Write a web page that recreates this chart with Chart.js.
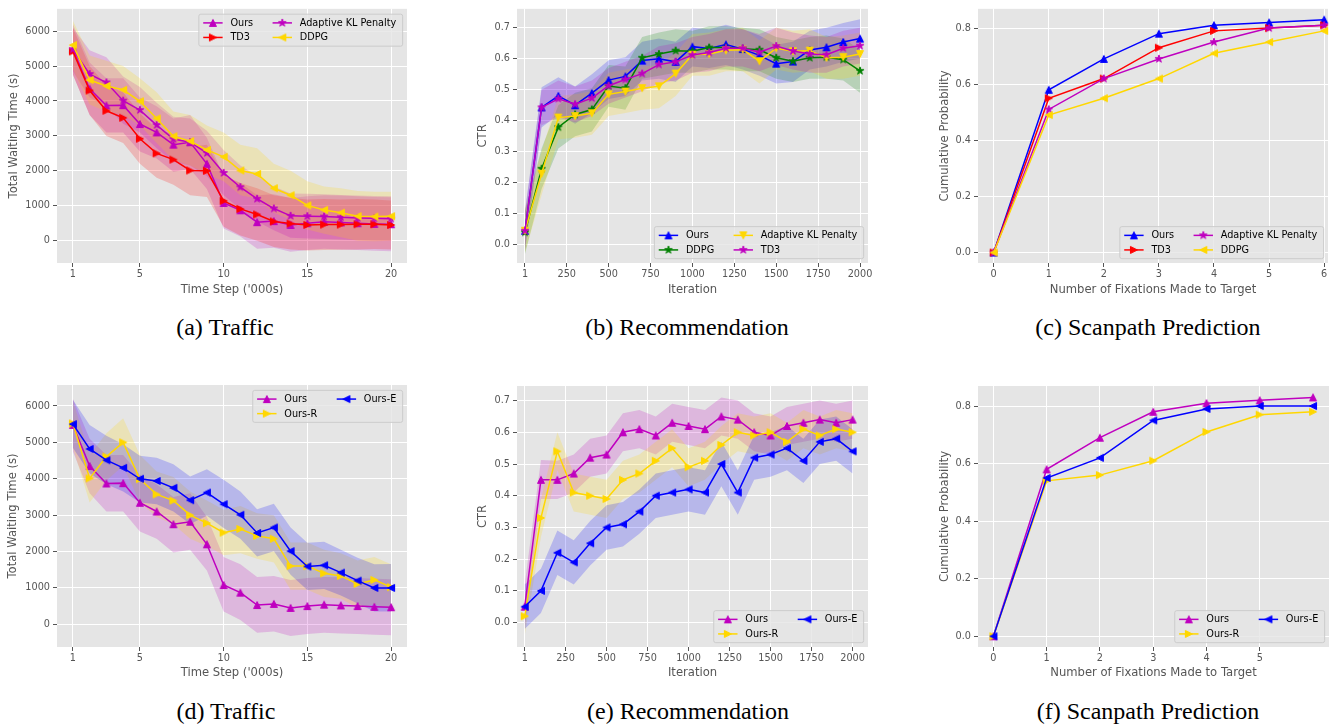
<!DOCTYPE html>
<html><head><meta charset="utf-8">
<script src="https://cdn.jsdelivr.net/npm/chart.js@4.4.1/dist/chart.umd.min.js"></script>
<style>
html,body{margin:0;padding:0;background:#fff;}
#root{position:relative;width:1340px;height:728px;overflow:hidden;background:#fff;}
canvas{position:absolute;}
.cap{position:absolute;width:400px;text-align:center;font-family:"Liberation Serif",serif;font-size:24px;line-height:28px;color:#000;white-space:nowrap;}
</style></head><body><div id="root"></div>
<script>
// ---------------- DATA ----------------
const trafficSteps = [1,2,3,4,5,6,7,8,9,10,11,12,13,14,15,16,17,18,19,20];
const trafficXTicks = [1,5,10,15,20];
const trafficYTicks = [0,1000,2000,3000,4000,5000,6000];
const iterations = [1,100,200,300,400,500,600,700,800,900,1000,1100,1200,1300,1400,1500,1600,1700,1800,1900,2000];
const iterXTicks = [1,250,500,750,1000,1250,1500,1750,2000];
const ctrYTicks = [0,0.1,0.2,0.3,0.4,0.5,0.6,0.7];
const fixations = [0,1,2,3,4,5,6];
const fixXTicksC = [0,1,2,3,4,5,6];
const fixXTicksF = [0,1,2,3,4,5];
const probYTicks = [0,0.2,0.4,0.6,0.8];

// (a)/(d) Traffic
const trafficOurs   = [5480,4350,3870,3880,3340,3100,2750,2820,2200,1080,870,530,560,450,500,540,520,500,480,470];
const trafficOursLo = [4750,3600,3100,3100,2550,2350,1970,2050,1480,350,120,-230,-200,-320,-270,-230,-250,-270,-290,-300];
const trafficOursHi = [6200,5100,4650,4650,4100,3850,3500,3600,2950,1850,1650,1300,1330,1220,1270,1300,1290,1270,1250,1240];
const trafficTD3    = [5420,4300,3720,3520,2920,2500,2320,2010,2000,1140,910,750,550,490,450,460,460,470,470,450];
const trafficTD3Lo  = [4750,3600,3000,2800,2200,1800,1600,1300,1250,400,150,0,-180,-250,-280,-270,-260,-250,-240,-250];
const trafficTD3Hi  = [6100,5000,4450,4250,3650,3200,3050,2700,2750,1880,1650,1500,1300,1230,1180,1190,1180,1190,1180,1150];
const trafficAKL    = [5480,4770,4530,4010,3740,3310,2910,2820,2510,1940,1530,1200,920,710,700,690,670,650,640,630];
const trafficAKLLo  = [4850,4100,3850,3350,3100,2650,2250,2150,1850,1300,900,550,300,80,60,50,30,10,0,-10];
const trafficAKLHi  = [6100,5450,5250,4700,4400,3950,3550,3500,3150,2600,2150,1850,1550,1350,1340,1330,1310,1290,1280,1270];
const trafficDDPG   = [5600,4600,4430,4320,3990,3500,2990,2850,2600,2400,2010,1910,1500,1300,1010,880,800,700,690,700];
const trafficDDPGLo = [4900,3900,3700,3600,3300,2800,2300,2150,1900,1700,1300,1200,800,600,320,200,100,0,-20,0];
const trafficDDPGHi = [6300,5300,5150,5000,4650,4250,3700,3600,3300,3100,2750,2650,2200,2000,1700,1550,1500,1420,1400,1400];
const trafficOursR   = [5520,4010,4610,5000,3990,3570,3400,3000,2780,2520,2620,2430,2350,1600,1600,1400,1330,1110,1220,1020];
const trafficOursRLo = [4850,3350,3950,4350,3350,2950,2750,2350,2150,1900,1950,1800,1700,950,950,750,700,450,550,400];
const trafficOursRHi = [6150,4650,5250,5660,4650,4200,4050,3650,3400,3150,3250,3050,3000,2250,2250,2050,1950,1750,1850,1650];
const trafficOursE   = [5500,4820,4510,4300,4000,3940,3750,3410,3620,3300,3010,2510,2660,2010,1590,1620,1420,1200,1000,1000];
const trafficOursELo = [4850,4150,3850,3650,3350,3300,3100,2760,2980,2650,2350,1860,2010,1360,940,970,790,570,350,350];
const trafficOursEHi = [6170,5480,5180,4950,4630,4580,4400,4060,4260,3970,3650,3160,3310,2660,2240,2270,2050,1830,1650,1660];

// (b) Recommendation
const recOurs   = [0.045,0.443,0.480,0.450,0.489,0.531,0.543,0.594,0.600,0.590,0.639,0.633,0.646,0.631,0.611,0.584,0.591,0.628,0.637,0.654,0.665];
const recOursLo = [-0.02,0.378,0.42,0.39,0.425,0.47,0.48,0.53,0.535,0.525,0.575,0.57,0.58,0.565,0.545,0.52,0.525,0.565,0.575,0.59,0.60];
const recOursHi = [0.11,0.508,0.54,0.51,0.55,0.595,0.605,0.655,0.665,0.655,0.70,0.695,0.71,0.695,0.675,0.645,0.655,0.69,0.70,0.715,0.727];
const recDDPG   = [0.040,0.245,0.379,0.420,0.436,0.512,0.505,0.603,0.615,0.626,0.624,0.636,0.636,0.632,0.629,0.603,0.592,0.603,0.605,0.597,0.561];
const recDDPGLo = [-0.03,0.18,0.31,0.35,0.365,0.445,0.435,0.535,0.545,0.555,0.555,0.565,0.565,0.56,0.56,0.535,0.525,0.535,0.535,0.53,0.49];
const recDDPGHi = [0.11,0.31,0.45,0.49,0.505,0.58,0.575,0.67,0.685,0.695,0.69,0.705,0.705,0.70,0.695,0.67,0.66,0.67,0.675,0.665,0.63];
const recAKL    = [0.045,0.229,0.410,0.415,0.424,0.485,0.494,0.505,0.511,0.552,0.613,0.615,0.627,0.629,0.592,0.634,0.624,0.626,0.603,0.605,0.615];
const recAKLLo  = [-0.025,0.16,0.34,0.345,0.355,0.415,0.425,0.435,0.44,0.48,0.545,0.545,0.56,0.56,0.52,0.565,0.555,0.56,0.535,0.535,0.545];
const recAKLHi  = [0.115,0.30,0.48,0.485,0.495,0.555,0.565,0.575,0.58,0.62,0.68,0.685,0.695,0.70,0.66,0.70,0.69,0.695,0.67,0.675,0.685];
const recTD3    = [0.045,0.443,0.471,0.453,0.473,0.513,0.533,0.552,0.581,0.590,0.612,0.620,0.634,0.634,0.621,0.641,0.625,0.615,0.613,0.634,0.642];
const recTD3Lo  = [-0.015,0.385,0.41,0.395,0.415,0.455,0.475,0.495,0.52,0.53,0.555,0.56,0.575,0.575,0.56,0.58,0.565,0.555,0.555,0.575,0.585];
const recTD3Hi  = [0.105,0.50,0.53,0.51,0.53,0.57,0.59,0.61,0.64,0.65,0.67,0.68,0.695,0.695,0.68,0.70,0.685,0.675,0.67,0.69,0.70];

// (e) Recommendation ablation
const abOurs    = [0.05,0.45,0.45,0.47,0.52,0.53,0.60,0.61,0.59,0.63,0.62,0.61,0.65,0.64,0.60,0.59,0.62,0.63,0.64,0.63,0.64];
const abOursLo  = [-0.02,0.39,0.39,0.41,0.46,0.47,0.54,0.55,0.53,0.57,0.56,0.55,0.59,0.58,0.54,0.53,0.56,0.57,0.58,0.57,0.58];
const abOursHi  = [0.12,0.513,0.51,0.53,0.58,0.59,0.66,0.67,0.65,0.69,0.68,0.67,0.71,0.70,0.66,0.65,0.68,0.69,0.70,0.69,0.70];
const abOursR   = [0.02,0.33,0.54,0.41,0.40,0.39,0.45,0.47,0.51,0.55,0.49,0.51,0.56,0.60,0.59,0.60,0.57,0.61,0.59,0.61,0.60];
const abOursRLo = [-0.04,0.27,0.48,0.35,0.34,0.33,0.39,0.41,0.45,0.49,0.43,0.45,0.50,0.54,0.53,0.54,0.51,0.55,0.53,0.55,0.54];
const abOursRHi = [0.08,0.39,0.60,0.47,0.46,0.45,0.51,0.53,0.57,0.61,0.55,0.57,0.62,0.66,0.65,0.66,0.63,0.67,0.65,0.67,0.66];
const abOursE   = [0.05,0.10,0.22,0.19,0.25,0.30,0.31,0.35,0.40,0.41,0.42,0.41,0.50,0.41,0.52,0.53,0.55,0.51,0.57,0.58,0.54];
const abOursELo = [-0.02,0.03,0.15,0.12,0.18,0.23,0.24,0.28,0.33,0.34,0.35,0.34,0.43,0.34,0.45,0.46,0.48,0.44,0.50,0.51,0.47];
const abOursEHi = [0.12,0.17,0.29,0.26,0.32,0.37,0.38,0.42,0.47,0.48,0.49,0.48,0.57,0.48,0.59,0.60,0.62,0.58,0.64,0.65,0.61];

// (c)/(f) Scanpath
const scanOurs  = [0,0.58,0.69,0.78,0.81,0.82,0.83];
const scanTD3   = [0,0.55,0.62,0.73,0.79,0.80,0.81];
const scanAKL   = [0,0.51,0.62,0.69,0.75,0.80,0.81];
const scanDDPG  = [0,0.49,0.55,0.62,0.71,0.75,0.79];
const scanOursR = [0,0.54,0.56,0.61,0.71,0.77,0.78];
const scanOursE = [0,0.55,0.62,0.75,0.79,0.80,0.80];

// ---------------- STYLE ----------------
const MAG='#BF00BF', RED='#FF0000', GOLD='#FFD700', BLUE='#0000FF', GREEN='#008000';
const BAND={ [MAG]:'rgba(191,0,191,0.2)', [RED]:'rgba(255,0,0,0.2)', [GOLD]:'rgba(255,215,0,0.2)', [BLUE]:'rgba(0,0,255,0.2)', [GREEN]:'rgba(0,128,0,0.2)' };
const FONT='"DejaVu Sans", sans-serif';
const TICK_FS=9.7, LABEL_FS=11.6, LEG_FS=9.7;
Chart.defaults.font.family = FONT;

const markerCache={};
function makeMarker(type,color){
  const key=type+color; if(markerCache[key]) return markerCache[key];
  const S=12,c=S/2,h=3.5;
  const cv=document.createElement('canvas'); cv.width=S; cv.height=S;
  const g=cv.getContext('2d'); g.beginPath();
  if(type==='^'){g.moveTo(c,c-h);g.lineTo(c+h,c+h);g.lineTo(c-h,c+h);}
  else if(type==='v'){g.moveTo(c,c+h);g.lineTo(c+h,c-h);g.lineTo(c-h,c-h);}
  else if(type==='>'){g.moveTo(c+h,c);g.lineTo(c-h,c-h);g.lineTo(c-h,c+h);}
  else if(type==='<'){g.moveTo(c-h,c);g.lineTo(c+h,c-h);g.lineTo(c+h,c+h);}
  else { const R=h*1.15; for(let k=0;k<10;k++){const r=k%2===0?R:R*0.382;const a=-Math.PI/2+k*Math.PI/5;const px=c+r*Math.cos(a),py=c+r*Math.sin(a); if(k===0)g.moveTo(px,py); else g.lineTo(px,py);} }
  g.closePath(); g.fillStyle=color; g.fill(); g.lineWidth=1; g.strokeStyle=color; g.stroke();
  markerCache[key]=cv; return cv;
}

const bgPlugin={id:'bgfill',beforeDraw(chart){const {ctx,chartArea:a}=chart;ctx.save();ctx.fillStyle='#E5E5E5';ctx.fillRect(a.left,a.top,a.right-a.left,a.bottom-a.top);ctx.restore();}};

function legendPlugin(items,pos){
  return {id:'mlegend',afterDatasetsDraw(chart){
    const ctx=chart.ctx,a=chart.chartArea,fs=LEG_FS;
    ctx.save(); ctx.font=fs+'px '+FONT;
    const nrow=Math.ceil(items.length/2);
    const cols=[items.slice(0,nrow),items.slice(nrow)];
    const hl=2*fs,hp=0.8*fs,cs=2*fs,bp=0.4*fs,ls=0.5*fs,rh=1.0*fs,ap=0.5*fs;
    const cw=cols.map(col=>hl+hp+Math.max(...col.map(it=>ctx.measureText(it.label).width)));
    const W=bp*2+cw[0]+cs+cw[1]+3, H=bp*2+nrow*rh+(nrow-1)*ls;
    const x0=a.right-ap-W;
    const y0=pos==='ur'?a.top+ap:a.bottom-ap-H;
    ctx.beginPath();
    if(ctx.roundRect) ctx.roundRect(x0+0.5,y0+0.5,W,H,2); else ctx.rect(x0+0.5,y0+0.5,W,H);
    ctx.fillStyle='rgba(229,229,229,0.8)'; ctx.fill();
    ctx.lineWidth=1; ctx.strokeStyle='#CCCCCC'; ctx.stroke();
    let cx=x0+bp+1;
    cols.forEach((col,ci)=>{
      col.forEach((it,ri)=>{
        const cy=y0+bp+rh/2+ri*(rh+ls)+0.5;
        ctx.beginPath(); ctx.moveTo(cx,cy); ctx.lineTo(cx+hl,cy);
        ctx.strokeStyle=it.color; ctx.lineWidth=1.5; ctx.stroke();
        const m=makeMarker(it.marker,it.color);
        ctx.drawImage(m,cx+hl/2-m.width/2,cy-m.height/2);
        ctx.fillStyle='#000'; ctx.textBaseline='middle'; ctx.textAlign='left';
        ctx.fillText(it.label,cx+hl+hp,cy+0.5);
      });
      cx+=cw[ci]+cs;
    });
    ctx.restore();
  }};
}

const fmtInt=v=>String(v);
const fmt1=v=>v.toFixed(1);

const panels=[
 {canvas:[0,0,435,310],area:[57,3,407,263],yTitleX:13.5,xTitleY:290,
  xRange:[0.05,20.95],yRange:[-640,6640],xTicks:trafficXTicks,yTicks:trafficYTicks,xFmt:fmtInt,yFmt:fmtInt,
  xTitle:"Time Step ('000s)",yTitle:'Total Waiting Time (s)',legend:'ur',x:trafficSteps,
  series:[
   {label:'Ours',color:MAG,marker:'^',y:trafficOurs,lo:trafficOursLo,hi:trafficOursHi},
   {label:'TD3',color:RED,marker:'>',y:trafficTD3,lo:trafficTD3Lo,hi:trafficTD3Hi},
   {label:'Adaptive KL Penalty',color:MAG,marker:'*',y:trafficAKL,lo:trafficAKLLo,hi:trafficAKLHi},
   {label:'DDPG',color:GOLD,marker:'<',y:trafficDDPG,lo:trafficDDPGLo,hi:trafficDDPGHi}]},
 {canvas:[440,0,440,310],area:[517,3,868,263],yTitleX:483,xTitleY:290,
  xRange:[-46.7,2047.7],yRange:[-0.059,0.761],xTicks:iterXTicks,yTicks:ctrYTicks,xFmt:fmtInt,yFmt:fmt1,
  xTitle:'Iteration',yTitle:'CTR',legend:'lr',x:iterations,
  series:[
   {label:'Ours',color:BLUE,marker:'^',y:recOurs,lo:recOursLo,hi:recOursHi},
   {label:'DDPG',color:GREEN,marker:'*',y:recDDPG,lo:recDDPGLo,hi:recDDPGHi},
   {label:'Adaptive KL Penalty',color:GOLD,marker:'v',y:recAKL,lo:recAKLLo,hi:recAKLHi},
   {label:'TD3',color:MAG,marker:'*',y:recTD3,lo:recTD3Lo,hi:recTD3Hi}]},
 {canvas:[895,0,445,310],area:[978,3,1328,263],yTitleX:945,xTitleY:290,
  xRange:[-0.285,6.07],yRange:[-0.0373,0.8686],xTicks:fixXTicksC,yTicks:probYTicks,xFmt:fmtInt,yFmt:fmt1,
  xTitle:'Number of Fixations Made to Target',yTitle:'Cumulative Probability',legend:'lr',x:fixations,
  series:[
   {label:'Ours',color:BLUE,marker:'^',y:scanOurs},
   {label:'TD3',color:RED,marker:'>',y:scanTD3},
   {label:'Adaptive KL Penalty',color:MAG,marker:'*',y:scanAKL},
   {label:'DDPG',color:GOLD,marker:'<',y:scanDDPG}]},
 {canvas:[0,375,435,310],area:[57,385,407,647],yTitleX:13,xTitleY:673,
  xRange:[0.05,20.95],yRange:[-624,6577],xTicks:trafficXTicks,yTicks:trafficYTicks,xFmt:fmtInt,yFmt:fmtInt,
  xTitle:"Time Step ('000s)",yTitle:'Total Waiting Time (s)',legend:'ur',x:trafficSteps,
  series:[
   {label:'Ours',color:MAG,marker:'^',y:trafficOurs,lo:trafficOursLo,hi:trafficOursHi},
   {label:'Ours-R',color:GOLD,marker:'>',y:trafficOursR,lo:trafficOursRLo,hi:trafficOursRHi},
   {label:'Ours-E',color:BLUE,marker:'<',y:trafficOursE,lo:trafficOursELo,hi:trafficOursEHi}]},
 {canvas:[440,375,440,310],area:[517,386,868,647],yTitleX:483,xTitleY:673,
  xRange:[-46,2094],yRange:[-0.077,0.746],xTicks:iterXTicks,yTicks:ctrYTicks,xFmt:fmtInt,yFmt:fmt1,
  xTitle:'Iteration',yTitle:'CTR',legend:'lr',x:iterations,
  series:[
   {label:'Ours',color:MAG,marker:'^',y:abOurs,lo:abOursLo,hi:abOursHi},
   {label:'Ours-R',color:GOLD,marker:'>',y:abOursR,lo:abOursRLo,hi:abOursRHi},
   {label:'Ours-E',color:BLUE,marker:'<',y:abOursE,lo:abOursELo,hi:abOursEHi}]},
 {canvas:[895,375,445,310],area:[978,386,1329,647],yTitleX:945,xTitleY:673,
  xRange:[-0.289,6.30],yRange:[-0.0372,0.8696],xTicks:fixXTicksF,yTicks:probYTicks,xFmt:fmtInt,yFmt:fmt1,
  xTitle:'Number of Fixations Made to Target',yTitle:'Cumulative Probability',legend:'lr',x:fixations,
  series:[
   {label:'Ours',color:MAG,marker:'^',y:scanOurs},
   {label:'Ours-R',color:GOLD,marker:'>',y:scanOursR},
   {label:'Ours-E',color:BLUE,marker:'<',y:scanOursE}]}
];

const captions=[['(a) Traffic',225,328],['(b) Recommendation',687,328],['(c) Scanpath Prediction',1148,328],
                ['(d) Traffic',226,712],['(e) Recommendation',688,712],['(f) Scanpath Prediction',1148,712]];

const root=document.getElementById('root');
const lh=LABEL_FS*1.2/2;

panels.forEach(p=>{
  const [cl,ct,cw,ch]=p.canvas, [L,T,R,B]=p.area;
  const cv=document.createElement('canvas');
  cv.width=cw; cv.height=ch; cv.style.left=cl+'px'; cv.style.top=ct+'px'; cv.style.width=cw+'px'; cv.style.height=ch+'px';
  root.appendChild(cv);
  const ds=[];
  p.series.forEach((s,i)=>{
    if(!s.lo) return;
    ds.push({data:p.x.map((x,k)=>({x,y:s.lo[k]})),borderWidth:0,borderColor:'rgba(0,0,0,0)',pointRadius:0,pointHoverRadius:0,fill:false,order:100-i,tension:0});
    ds.push({data:p.x.map((x,k)=>({x,y:s.hi[k]})),borderWidth:0,borderColor:'rgba(0,0,0,0)',pointRadius:0,pointHoverRadius:0,fill:'-1',backgroundColor:BAND[s.color],order:100-i,tension:0});
  });
  p.series.forEach((s,i)=>{
    ds.push({label:s.label,data:p.x.map((x,k)=>({x,y:s.y[k]})),borderColor:s.color,backgroundColor:s.color,borderWidth:1.5,
      pointStyle:makeMarker(s.marker,s.color),pointRadius:5,pointHoverRadius:5,fill:false,tension:0,clip:false,order:50-i});
  });
  const yW=L-cl, xH=ct+ch-B;
  new Chart(cv,{type:'line',data:{datasets:ds},
    options:{responsive:false,animation:false,events:[],
      layout:{autoPadding:false,padding:{left:0,top:T-ct,right:cl+cw-R,bottom:0}},
      plugins:{legend:{display:false},tooltip:{enabled:false}},
      scales:{
        x:{type:'linear',position:'bottom',min:p.xRange[0],max:p.xRange[1],
          afterBuildTicks:sc=>{sc.ticks=p.xTicks.map(v=>({value:v}));},
          afterFit:sc=>{sc.height=xH;},
          grid:{color:'#FFFFFF',lineWidth:1,tickColor:'#555555',tickLength:4,tickWidth:1},
          border:{display:false},
          ticks:{color:'#555555',font:{size:TICK_FS},padding:2,autoSkip:false,maxRotation:0,minRotation:0,callback:v=>p.xFmt(v)},
          title:{display:true,text:p.xTitle,color:'#555555',font:{size:LABEL_FS},padding:{top:0,bottom:ct+ch-p.xTitleY-lh}}},
        y:{type:'linear',position:'left',min:p.yRange[0],max:p.yRange[1],
          afterBuildTicks:sc=>{sc.ticks=p.yTicks.map(v=>({value:v}));},
          afterFit:sc=>{sc.width=yW;},
          grid:{color:'#FFFFFF',lineWidth:1,tickColor:'#555555',tickLength:4,tickWidth:1},
          border:{display:false},
          ticks:{color:'#555555',font:{size:TICK_FS},padding:3,autoSkip:false,callback:v=>p.yFmt(v)},
          title:{display:true,text:p.yTitle,color:'#555555',font:{size:LABEL_FS},padding:{top:p.yTitleX-cl-lh,bottom:0}}}
      }},
    plugins:[bgPlugin,legendPlugin(p.series.map(s=>({label:s.label,color:s.color,marker:s.marker})),p.legend)]
  });
});

captions.forEach(([t,cx,cy])=>{
  const d=document.createElement('div'); d.className='cap'; d.textContent=t;
  d.style.left=(cx-200)+'px'; d.style.top=(cy-15)+'px'; root.appendChild(d);
});
</script></body></html>
